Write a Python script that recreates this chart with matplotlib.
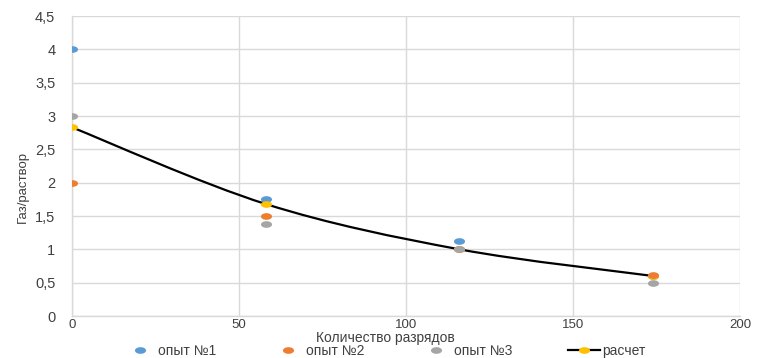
import numpy as np
import matplotlib.pyplot as plt
from matplotlib.path import Path
from matplotlib.patches import PathPatch
from matplotlib.lines import Line2D
from matplotlib.ticker import FuncFormatter

plt.rcParams['font.family'] = ['Liberation Sans', 'DejaVu Sans']

discharges = [0, 58, 116, 174]
run1 = [4.0, 1.75, 1.12, 0.6]
run2 = [2.0, 1.5, 1.0, 0.62]
run3 = [3.0, 1.38, 1.0, 0.5]
calc = [2.83, 1.68, 1.0, 0.6]

series_names = ['опыт №1', 'опыт №2', 'опыт №3', 'расчет']
colors = ['#5b9bd5', '#ed7d31', '#a5a5a5', '#ffc000']
text_color = '#404040'

# flattened dot, like the stretched Excel markers
circ = Path.unit_circle()
dot = Path(circ.vertices * [1.0, 0.6], circ.codes)


def smooth_path(x, y, t=1 / 6):
    # Catmull-Rom style cubic Bezier through the points
    x = np.asarray(x, float)
    y = np.asarray(y, float)
    verts = [(x[0], y[0])]
    codes = [Path.MOVETO]
    n = len(x)
    for i in range(n - 1):
        i0 = max(i - 1, 0)
        i3 = min(i + 2, n - 1)
        c1 = (x[i] + (x[i + 1] - x[i0]) * t, y[i] + (y[i + 1] - y[i0]) * t)
        c2 = (x[i + 1] - (x[i3] - x[i]) * t, y[i + 1] - (y[i3] - y[i]) * t)
        verts += [c1, c2, (x[i + 1], y[i + 1])]
        codes += [Path.CURVE4] * 3
    return Path(verts, codes)


fig = plt.figure(figsize=(7.6, 3.58), dpi=100)
ax = fig.add_axes([72 / 760, 42 / 358, 668 / 760, 300 / 358])

ms = 8
ax.plot(discharges, run1, ls='none', marker=dot, ms=ms, color=colors[0], mec='none', zorder=3)
ax.add_patch(PathPatch(smooth_path(discharges, calc), fill=False, ec='black', lw=1.6, zorder=4))
ax.plot(discharges, calc, ls='none', marker=dot, ms=ms, color=colors[3], mec='none', zorder=5)
ax.plot(discharges, run2, ls='none', marker=dot, ms=ms, color=colors[1], mec='none', zorder=6)
ax.plot(discharges, run3, ls='none', marker=dot, ms=ms, color=colors[2], mec='none', zorder=7)

ax.set_xlim(0, 200)
ax.set_ylim(0, 4.5)
ax.set_xticks([0, 50, 100, 150, 200])
ax.set_yticks(np.arange(0, 4.51, 0.5))
ax.yaxis.set_major_formatter(FuncFormatter(lambda v, p: f'{v:g}'.replace('.', ',')))
ax.grid(True, color='#d9d9d9', lw=1)
ax.set_axisbelow(True)
for s in ['top', 'right']:
    ax.spines[s].set_visible(False)
for s in ['left', 'bottom']:
    ax.spines[s].set_color('#d9d9d9')
    ax.spines[s].set_linewidth(1)
ax.tick_params(length=0, labelsize=10.5, colors=text_color)
ax.tick_params(axis='y', pad=12)
ax.tick_params(axis='x', pad=2, labelsize=9.5)

ax.set_xlabel('Количество разрядов', fontsize=10, color=text_color)
ax.xaxis.set_label_coords(0.469, -0.05)
ax.set_ylabel('Газ/раствор', fontsize=9.5, color=text_color,
              family=['Liberation Sans Narrow', 'Liberation Sans', 'DejaVu Sans'])
ax.yaxis.set_label_coords(-0.064, 0.43)

handles = [Line2D([], [], ls='none', marker=dot, ms=ms, color=c, mec='none') for c in colors[:3]]
handles.append(Line2D([], [], color='black', lw=1.6, marker=dot, ms=ms, mfc=colors[3], mec='none'))
fig.legend(handles, series_names, loc='lower left', bbox_to_anchor=(124 / 760, 0.0), ncol=4,
           frameon=False, fontsize=10, columnspacing=4.0, handletextpad=0.15,
           borderpad=0, borderaxespad=0, labelcolor=text_color, handlelength=2.3)

fig.savefig('out.png', dpi=100)
